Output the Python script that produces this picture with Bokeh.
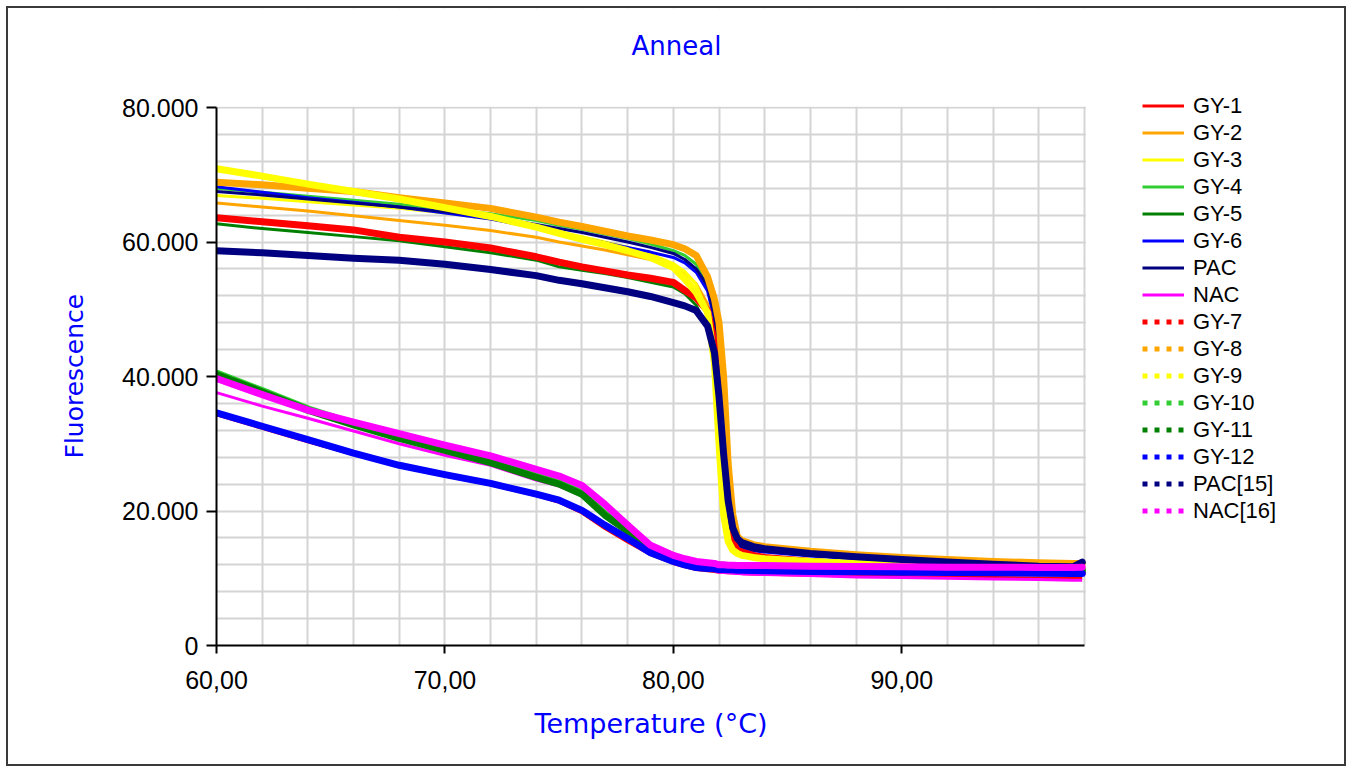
from bokeh.plotting import figure
from bokeh.models import FixedTicker, Legend, LegendItem, Label, BoxAnnotation, Title
from bokeh.embed import file_html
from bokeh.resources import INLINE

# ---------------- data ----------------
temperature = [60, 62, 64, 66, 68, 70, 72, 74, 75, 76, 77, 78, 79, 80, 80.5, 81, 81.5, 81.8,
               82.0, 82.2, 82.4, 82.6, 82.8, 83.0, 83.5, 84, 86, 88, 90, 92, 94, 96, 97.5, 97.9]

gy1 = [34300, 32300, 30300, 28400, 26600, 25200, 23900, 22300, 21300, 19700, 17400, 15400, 13500, 12200,
       11700, 11300, 11100, 11000, 10900, 10850, 10800, 10800, 10750, 10700, 10650, 10600, 10450, 10350,
       10250, 10150, 10100, 10050, 10000, 10000]
gy2 = [65800, 65200, 64600, 63900, 63200, 62500, 61700, 60700, 60000, 59400, 58800, 58100, 57400, 56500,
       55500, 53800, 50800, 46500, 38000, 27000, 19000, 15500, 14300, 13900, 13500, 13300, 12800, 12400,
       12100, 11900, 11700, 11600, 11500, 11500]
gy3 = [66900, 66500, 66000, 65500, 65000, 64300, 63400, 62200, 61500, 60800, 60000, 59200, 58200, 56800,
       55600, 53700, 49500, 43000, 33000, 22000, 16500, 14500, 13800, 13500, 13200, 13000, 12600, 12300,
       12000, 11800, 11700, 11600, 11500, 11500]
gy4 = [68000, 67400, 66800, 66200, 65600, 64900, 64200, 63200, 62500, 61900, 61200, 60500, 59700, 58700,
       58000, 56700, 53800, 49800, 42500, 31500, 22500, 17200, 15400, 14800, 14300, 14100, 13500, 13000,
       12600, 12300, 12100, 11900, 11800, 11800]
gy5 = [62700, 62000, 61400, 60800, 60200, 59300, 58400, 57300, 56300, 55800, 55300, 54700, 54000, 53300,
       52300, 50600, 47000, 42500, 35000, 25500, 18800, 15400, 14200, 13800, 13400, 13200, 12700, 12300,
       12000, 11800, 11600, 11500, 11400, 11400]
gy6 = [68200, 67400, 66600, 65900, 65200, 64300, 63400, 62100, 61300, 60600, 59900, 59200, 58500, 57700,
       56900, 55500, 52700, 48500, 40500, 30000, 21000, 16500, 15000, 14500, 14100, 13900, 13300, 12900,
       12500, 12200, 12000, 11800, 11700, 11700]
pac = [67500, 67000, 66400, 65800, 65200, 64500, 63700, 62600, 62000, 61400, 60700, 60000, 59200, 58300,
       57400, 56000, 53500, 49000, 41000, 30500, 21500, 16800, 15200, 14700, 14200, 14000, 13400, 13000,
       12600, 12300, 12100, 11900, 11800, 11800]
nac = [37600, 35600, 33800, 31900, 30000, 28300, 26800, 24600, 23700, 22300, 19600, 16800, 14300, 12700,
       12100, 11700, 11300, 11100, 10900, 10850, 10800, 10750, 10700, 10650, 10600, 10550, 10400, 10200,
       10100, 10000, 9900, 9800, 9700, 9700]
gy7 = [63600, 63000, 62400, 61800, 60700, 60000, 59100, 57800, 57000, 56300, 55700, 55100, 54600, 54000,
       52800, 51700, 49800, 45000, 36000, 25500, 18500, 15300, 14200, 13900, 13400, 13100, 12500, 12000,
       11600, 11300, 11100, 10900, 10800, 10800]
gy8 = [68900, 68500, 68000, 67500, 66600, 65800, 65000, 63700, 62950, 62300, 61600, 60900, 60300, 59600,
       59000, 58000, 54800, 51500, 48000, 40000, 27000, 19500, 16200, 15600, 15000, 14700, 14000, 13500,
       13100, 12800, 12500, 12300, 12200, 12200]
gy9 = [70900, 69800, 68600, 67500, 66400, 65100, 63800, 62200, 61300, 60400, 59600, 58700, 57700, 56200,
       54500, 52500, 49500, 42000, 30000, 19500, 15500, 14200, 13700, 13400, 13100, 12900, 12500, 12200,
       12000, 11800, 11700, 11600, 11500, 11500]
gy10 = [40500, 37900, 35200, 33000, 31000, 29200, 27400, 25200, 24200, 22700, 19600, 17100, 14800, 13300,
        12800, 12400, 12200, 12100, 12000, 11950, 11900, 11850, 11800, 11800, 11750, 11700, 11600, 11500,
        11450, 11400, 11350, 11300, 11250, 11250]
gy11 = [40300, 37700, 35000, 32800, 30800, 29000, 27200, 25000, 24000, 22500, 19400, 17000, 14700, 13200,
        12700, 12300, 12100, 12000, 11900, 11850, 11800, 11750, 11700, 11700, 11650, 11600, 11500, 11400,
        11350, 11300, 11250, 11200, 11150, 11150]
gy12 = [34600, 32600, 30600, 28600, 26800, 25400, 24100, 22500, 21600, 20100, 17900, 15900, 13800, 12500,
        12000, 11600, 11450, 11400, 11300, 11300, 11250, 11250, 11200, 11200, 11150, 11100, 11000, 10950,
        10900, 10850, 10800, 10750, 10700, 10700]
pac15 = [58700, 58400, 58000, 57600, 57300, 56700, 55900, 55000, 54300, 53800, 53200, 52600, 51900, 51000,
         50500, 49800, 47500, 43500, 37000, 28500, 21500, 17500, 15900, 15300, 14700, 14400, 13700, 13200,
         12800, 12400, 12100, 11800, 11700, 12400]
nac16 = [39700, 37300, 35000, 33200, 31500, 29800, 28200, 26200, 25200, 23800, 21000, 17900, 14900, 13400,
         12900, 12500, 12300, 12200, 12000, 12000, 11950, 11950, 11900, 11900, 11900, 11900, 11800, 11750,
         11700, 11650, 11650, 11600, 11600, 11650]

solid_names = ["GY-1", "GY-2", "GY-3", "GY-4", "GY-5", "GY-6", "PAC", "NAC"]
solid_values = [gy1, gy2, gy3, gy4, gy5, gy6, pac, nac]
dotted_names = ["GY-7", "GY-8", "GY-9", "GY-10", "GY-11", "GY-12", "PAC[15]", "NAC[16]"]
dotted_values = [gy7, gy8, gy9, gy10, gy11, gy12, pac15, nac16]
colors = ["#FF0000", "#FFA500", "#FFFF00", "#32CD32", "#008000", "#0000FF", "#000080", "#FF00FF"]

x_min, x_max = 60, 98
y_min, y_max = 0, 80000
x_label_ticks = [60, 70, 80, 90]
x_label_text = ["60,00", "70,00", "80,00", "90,00"]
y_label_ticks = [0, 20000, 40000, 60000, 80000]
y_label_text = ["0", "20.000", "40.000", "60.000", "80.000"]

# ---------------- figure ----------------
# The frame is widened to hold the legend and title; axes and grid are bounded to the data area.
FRAME_L, FRAME_T = 208, 0
PLOT_W, PLOT_H = 868, 538          # data area in pixels
CONTENT_W, CONTENT_H = 1340, 760
frame_w = CONTENT_W - FRAME_L
frame_h = PLOT_H + 99
px_per_x = PLOT_W / (x_max - x_min)
px_per_y = PLOT_H / (y_max - y_min)
x_end = x_min + frame_w / px_per_x
y_end = y_min + frame_h / px_per_y

p = figure(width=CONTENT_W, height=CONTENT_H, x_range=(x_min, x_end), y_range=(y_min, y_end),
           output_backend="svg", toolbar_location=None, title=None,
           min_border_left=FRAME_L, min_border_right=0, min_border_top=FRAME_T,
           min_border_bottom=CONTENT_H - frame_h)
p.styles = {"margin-left": "6px", "margin-top": "6px", "border": "2px solid #3a3a3a"}
p.outline_line_color = None
p.background_fill_color = "white"
p.border_fill_color = "white"

# grid
p.xgrid.ticker = FixedTicker(ticks=list(range(60, 100, 2)))
p.ygrid.ticker = FixedTicker(ticks=list(range(0, 80001, 4000)))
for g in (p.xgrid, p.ygrid):
    g.grid_line_color = "#d4d4d4"
    g.grid_line_width = 2

# white masks outside the data area (hide grid lines there)
p.add_layout(BoxAnnotation(left=x_max + 0.06, fill_color="white", fill_alpha=1, line_alpha=0, level="underlay"))
p.add_layout(BoxAnnotation(bottom=y_max + 120, fill_color="white", fill_alpha=1, line_alpha=0, level="underlay"))

# axes
p.xaxis.ticker = FixedTicker(ticks=x_label_ticks, minor_ticks=[])
p.yaxis.ticker = FixedTicker(ticks=y_label_ticks, minor_ticks=[])
p.xaxis.bounds = (x_min, x_max)
p.yaxis.bounds = (y_min, y_max)
p.xaxis.major_label_overrides = dict(zip(x_label_ticks, x_label_text))
p.yaxis.major_label_overrides = dict(zip(y_label_ticks, y_label_text))
for ax in (p.xaxis, p.yaxis):
    ax.axis_line_color = "black"
    ax.axis_line_width = 2
    ax.major_tick_line_color = "black"
    ax.major_tick_line_width = 2
    ax.major_tick_in = 0
    ax.minor_tick_out = 0
    ax.minor_tick_in = 0
    ax.major_label_text_font = "Liberation Sans"
    ax.major_label_text_font_size = "25px"
    ax.major_label_text_color = "black"
p.xaxis.major_tick_out = 8
p.yaxis.major_tick_out = 10
p.xaxis.major_label_standoff = 17
p.yaxis.major_label_standoff = 8

# axis titles placed along the data area (not the widened frame)
xlab = Title(text="Temperature (°C)", align="left", offset=318, vertical_align="middle", standoff=30,
             text_font="DejaVu Sans", text_font_size="27px", text_font_style="normal", text_color="#0000FF")
p.add_layout(xlab, "below")
ylab = Title(text="Fluorescence", align="left", offset=187, vertical_align="middle", standoff=60,
             text_font="DejaVu Sans", text_font_size="25px", text_font_style="normal", text_color="#0000FF")
p.add_layout(ylab, "left")

# lines
items = []
for name, vals, c in zip(solid_names, solid_values, colors):
    r = p.line(temperature, vals, line_color=c, line_width=3, line_join="round")
    items.append(LegendItem(label=name, renderers=[r]))
for name, vals, c in zip(dotted_names, dotted_values, colors):
    dashed = p.line(temperature, vals, line_color=c, line_width=5, line_dash="5 7")
    p.line(temperature, vals, line_color=c, line_width=7, line_join="round", line_cap="round")
    items.append(LegendItem(label=name, renderers=[dashed]))

legend = Legend(items=items, location=(1142 - 216, 645 - 524), padding=0, margin=0, spacing=0,
                glyph_width=42, glyph_height=27, label_height=27, label_standoff=9,
                label_text_font="Liberation Sans", label_text_font_size="22px",
                label_text_color="black", border_line_color=None, background_fill_alpha=0)
p.add_layout(legend, "center")

title = Label(x=676 - 216, y=645 - 45, x_units="screen", y_units="screen", text="Anneal",
              text_font="DejaVu Sans", text_font_size="26px", text_color="#0000FF",
              text_align="center", text_baseline="middle")
p.add_layout(title)

open("out.html", "w").write(file_html(p, INLINE))
